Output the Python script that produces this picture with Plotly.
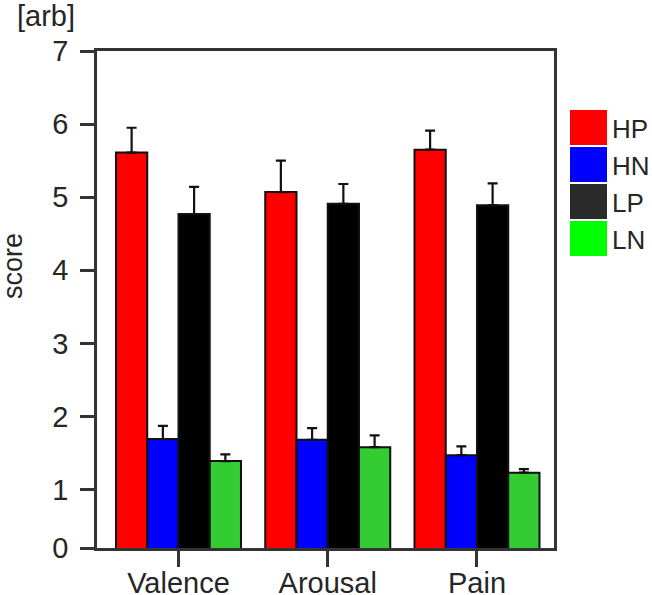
import plotly.graph_objects as go

categories = ["Valence", "Arousal", "Pain"]
series_names = ["HP", "HN", "LP", "LN"]
hp_values = [5.61, 5.07, 5.65]
hp_errors = [0.34, 0.43, 0.26]
hn_values = [1.69, 1.68, 1.47]
hn_errors = [0.18, 0.16, 0.12]
lp_values = [4.77, 4.91, 4.89]
lp_errors = [0.37, 0.27, 0.30]
ln_values = [1.39, 1.58, 1.23]
ln_errors = [0.09, 0.16, 0.05]
bar_colors = ["#ff0000", "#0000ff", "#000000", "#33cc33"]
legend_colors = ["#ff0000", "#0000ff", "#2b2b2b", "#00ff00"]
ytick_vals = [0.2, 1, 2, 3, 4, 5, 6, 7]
ytick_text = ["0", "1", "2", "3", "4", "5", "6", "7"]

values = [hp_values, hn_values, lp_values, ln_values]
errors = [hp_errors, hn_errors, lp_errors, ln_errors]

W, H = 652, 595
L, R, T, B = 97, 98, 51, 47
pw, ph = W - L - R, H - T - B

def px_x(x):
    return (x - L) / pw

def px_y(y):
    return (H - B - y) / ph

FONT = "Liberation Sans, Arial, sans-serif"
TXT = "#262626"
AX = "#333333"

fig = go.Figure()
for name, vals, errs, col in zip(series_names, values, errors, bar_colors):
    fig.add_trace(go.Bar(
        x=categories, y=vals, name=name, showlegend=False,
        marker=dict(color=col, line=dict(color="#111111", width=2)),
        error_y=dict(type="data", symmetric=False, array=errs,
                     arrayminus=[0] * len(errs), color="#111111",
                     thickness=2.2, width=5),
    ))

shapes = []
annotations = []
sq_top = 110
sq_h = 35
step = 37
for i, (name, col) in enumerate(zip(series_names, legend_colors)):
    y0 = sq_top + i * step
    shapes.append(dict(type="rect", xref="paper", yref="paper",
                       x0=px_x(570), x1=px_x(607), y0=px_y(y0 + sq_h), y1=px_y(y0),
                       fillcolor=col, line=dict(width=0)))
    annotations.append(dict(text=name, xref="paper", yref="paper",
                            x=px_x(610), y=px_y(y0 + sq_h / 2 + 1), xanchor="left",
                            yanchor="middle", showarrow=False,
                            font=dict(family=FONT, size=26, color=TXT)))

annotations.append(dict(text="score", xref="paper", yref="paper",
                        x=px_x(13), y=px_y(266), textangle=-90,
                        xanchor="center", yanchor="middle", showarrow=False,
                        font=dict(family=FONT, size=27, color=TXT)))
annotations.append(dict(text="[arb]", xref="paper", yref="paper",
                        x=px_x(46), y=px_y(16), xanchor="center",
                        yanchor="middle", showarrow=False,
                        font=dict(family=FONT, size=29, color=TXT)))

fig.update_layout(
    width=W, height=H,
    margin=dict(l=L, r=R, t=T, b=B, autoexpand=False),
    paper_bgcolor="white", plot_bgcolor="white",
    barmode="group", bargap=0.1625, bargroupgap=0,
    shapes=shapes, annotations=annotations,
    xaxis=dict(range=[-0.546, 2.516], showgrid=False, zeroline=False,
               automargin=False,
               showline=True, linecolor=AX, linewidth=2.5, mirror=True,
               ticks="outside", ticklen=16, tickwidth=2.5, tickcolor=AX,
               ticklabelstandoff=-9,
               tickfont=dict(family=FONT, size=29, color=TXT)),
    yaxis=dict(range=[0.2, 7], showgrid=False, zeroline=False,
               automargin=False,
               showline=True, linecolor=AX, linewidth=2.5, mirror=True,
               ticks="outside", ticklen=14, tickwidth=2.5, tickcolor=AX,
               tickvals=ytick_vals, ticktext=ytick_text,
               ticklabelstandoff=6,
               tickfont=dict(family=FONT, size=29, color=TXT)),
)

fig.write_html("out.html",
               config={"displayModeBar": False},
               post_script="document.body.style.margin='0px';document.body.style.overflow='hidden';")
